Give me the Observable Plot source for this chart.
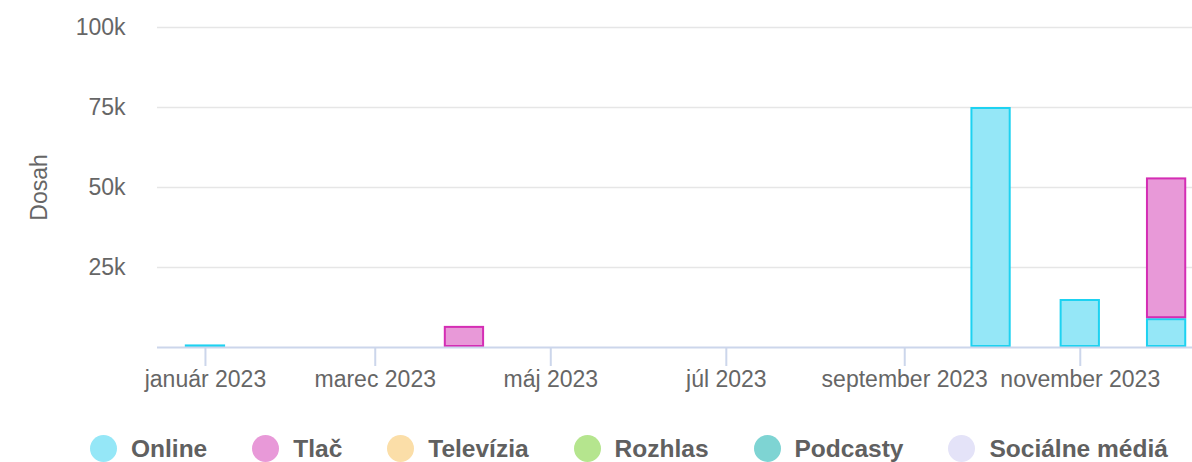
<!DOCTYPE html>
<html>
<head>
<meta charset="utf-8">
<script src="https://cdn.jsdelivr.net/npm/d3@7"></script>
<script src="https://cdn.jsdelivr.net/npm/@observablehq/plot@0.6"></script>
<style>
  html, body { margin: 0; padding: 0; background: #fff; overflow: hidden; }
  #wrap { position: relative; width: 1192px; height: 462px; font-family: "Liberation Sans", Arial, sans-serif; }
  #legend { position: absolute; left: 90px; top: 435px; height: 26px; width: 1100px; display: flex; align-items: center; white-space: nowrap; }
  .item { display: flex; align-items: center; margin-right: 45px; flex: none; }
  .dot { width: 27px; height: 27px; border-radius: 50%; margin-right: 14px; flex: none; }
  .lbl { font-size: 24.5px; font-weight: bold; color: #606060; line-height: 27px; white-space: nowrap; }
</style>
</head>
<body>
<div id="wrap">
  <div id="chart"></div>
  <div id="legend"></div>
</div>
<script>
// ---- data ----
const months = ["2023-01-01","2023-02-01","2023-03-01","2023-04-01","2023-05-01","2023-06-01",
                "2023-07-01","2023-08-01","2023-09-01","2023-10-01","2023-11-01","2023-12-01"];
const online = [800, 0, 0, 0, 0, 0, 0, 0, 0, 75000, 15000, 9000];
const tlac   = [0, 0, 0, 6600, 0, 0, 0, 0, 0, 0, 0, 44000];
const seriesNames = ["Online", "Tlač", "Televízia", "Rozhlas", "Podcasty", "Sociálne médiá"];
const seriesFill = ["#95e7f7", "#e899d8", "#fbdea8", "#b5e58e", "#7ed4d3", "#e4e3f8"];
const seriesStroke = ["#1dd2f1", "#d42db4", "#f5c46a", "#8fd35a", "#3fb9b8", "#c9c7f0"];
const xTickDates = ["2023-01-01","2023-03-01","2023-05-01","2023-07-01","2023-09-01","2023-11-01"];
const xTickLabels = ["január 2023","marec 2023","máj 2023","júl 2023","september 2023","november 2023"];
const yTicks = [0, 25000, 50000, 75000, 100000];
const yTickLabels = ["", "25k", "50k", "75k", "100k"];

// ---- build table ----
const seriesValues = {"Online": online, "Tlač": tlac};
const data = [];
months.forEach((m, i) => {
  for (const s of ["Online", "Tlač"]) {
    const v = seriesValues[s][i];
    if (v > 0) data.push({date: new Date(m), type: s, value: v});
  }
});
const fillOf = Object.fromEntries(seriesNames.map((s, i) => [s, seriesFill[i]]));
const strokeOf = Object.fromEntries(seriesNames.map((s, i) => [s, seriesStroke[i]]));
const xLabelOf = new Map(xTickDates.map((d, i) => [+new Date(d), xTickLabels[i]]));
const yLabelOf = new Map(yTicks.map((d, i) => [d, yTickLabels[i]]));

const chart = Plot.plot({
  width: 1192,
  height: 420,
  marginLeft: 157,
  marginRight: 0,
  marginTop: 27,
  marginBottom: 73,
  style: {fontFamily: "'Liberation Sans', Arial, sans-serif", fontSize: "23px", color: "#666", background: "#fff"},
  x: {type: "utc", domain: [new Date(Date.UTC(2022, 11, 15, 8)), new Date(Date.UTC(2023, 11, 10))]},
  y: {domain: [0, 100000]},
  color: {type: "identity"},
  marks: [
    Plot.gridY(yTicks.slice(1), {stroke: "#e6e6e6", strokeOpacity: 1, strokeWidth: 1.5}),
    Plot.rect(data, Plot.stackY({
      x: "date",
      y: "value",
      x1: d => d3.utcDay.offset(d.date, -7),
      x2: d => d3.utcDay.offset(d.date, 7),
      fill: d => fillOf[d.type],
      stroke: d => strokeOf[d.type],
      strokeWidth: 2,
      inset: 1
    })),
    Plot.ruleY([0], {stroke: "#ccd6eb", strokeWidth: 2}),
    Plot.axisX({
      ticks: xTickDates.map(d => new Date(d)),
      tickFormat: d => xLabelOf.get(+d),
      tickSize: 19,
      tickPadding: 4,
      stroke: "#ccd6eb",
      strokeWidth: 2,
      fill: "#666",
      label: null
    }),
    Plot.axisY({
      ticks: yTicks,
      tickFormat: d => yLabelOf.get(d),
      tickSize: 0,
      tickPadding: 32,
      fill: "#666",
      label: "Dosah",
      labelAnchor: "center",
      labelOffset: 127,
      labelArrow: "none"
    })
  ]
});
document.getElementById("chart").appendChild(chart);

const legend = document.getElementById("legend");
seriesNames.forEach((s, i) => {
  const item = document.createElement("div");
  item.className = "item";
  const dot = document.createElement("div");
  dot.className = "dot";
  dot.style.background = seriesFill[i];
  const lbl = document.createElement("span");
  lbl.className = "lbl";
  lbl.textContent = s;
  item.appendChild(dot);
  item.appendChild(lbl);
  legend.appendChild(item);
});
</script>
</body>
</html>
